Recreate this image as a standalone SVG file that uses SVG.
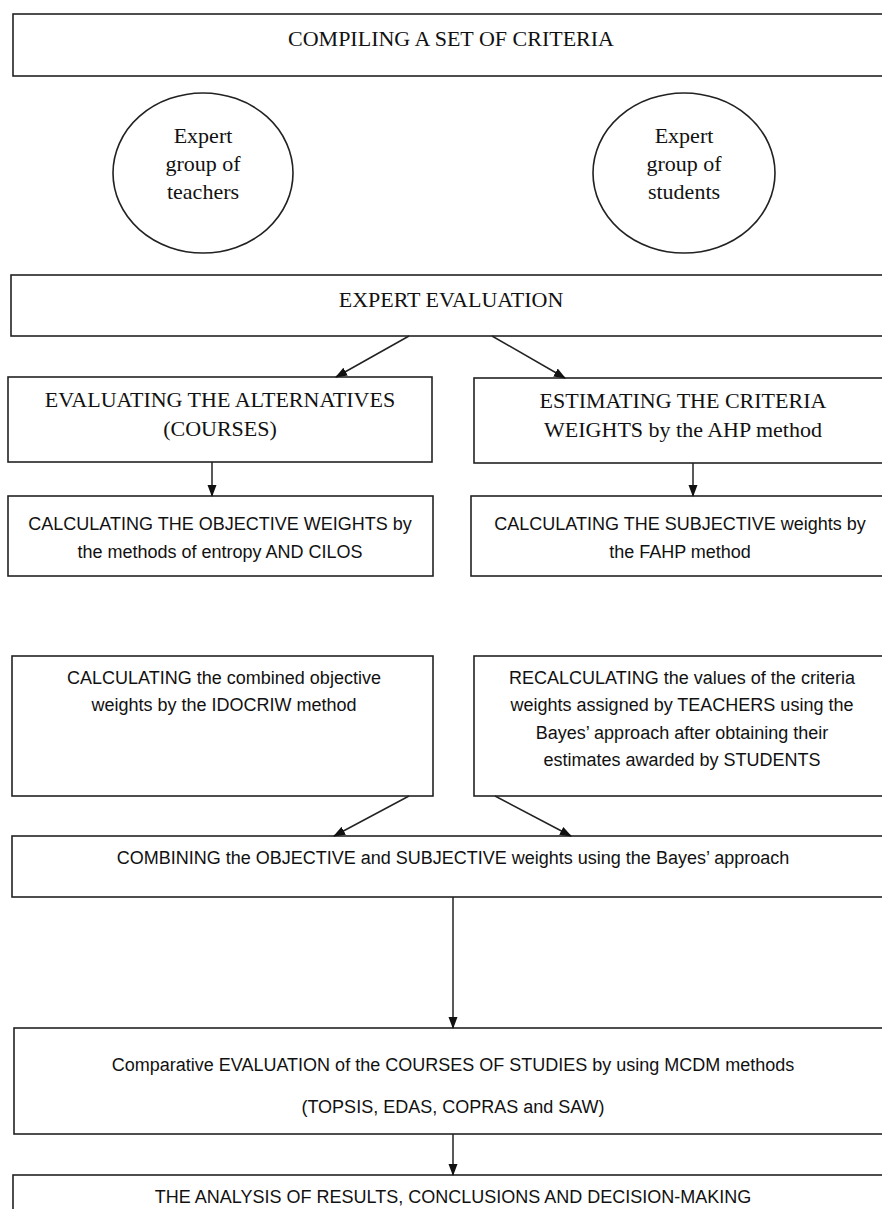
<svg xmlns="http://www.w3.org/2000/svg" width="882" height="1209" viewBox="0 0 882 1209">
<defs>
<style>
.box{fill:#fff;stroke:#222;stroke-width:1.6}
.ell{fill:#fff;stroke:#222;stroke-width:1.6}
.serif{font-family:"Liberation Serif","Times New Roman",serif;font-size:22px;fill:#111;text-anchor:middle}
.sans{font-family:"Liberation Sans",Arial,sans-serif;font-size:18px;fill:#111;text-anchor:middle}
.conn{stroke:#222;stroke-width:1.5;fill:none;marker-end:url(#ah)}
</style>
<marker id="ah" markerUnits="userSpaceOnUse" markerWidth="12" markerHeight="12" viewBox="0 0 12 12" refX="11" refY="6" orient="auto">
<path d="M0,1.5 L12,6 L0,10.5 Z" fill="#111"/>
</marker>
</defs>
<rect width="882" height="1209" fill="#fff"/>
<g id="n-compiling">
<rect class="box" x="13" y="14" width="900" height="62"/>
<text class="serif" x="451" y="46">COMPILING A SET OF CRITERIA</text>
</g>
<g id="n-teachers">
<ellipse class="ell" cx="203" cy="173" rx="90" ry="80"/>
<text class="serif" x="203" y="143">Expert</text>
<text class="serif" x="203" y="171">group of</text>
<text class="serif" x="203" y="199">teachers</text>
</g>
<g id="n-students">
<ellipse class="ell" cx="684" cy="173" rx="91" ry="80"/>
<text class="serif" x="684" y="143">Expert</text>
<text class="serif" x="684" y="171">group of</text>
<text class="serif" x="684" y="199">students</text>
</g>
<g id="n-expert-eval">
<rect class="box" x="11" y="275" width="900" height="61"/>
<text class="serif" x="451" y="307">EXPERT EVALUATION</text>
</g>
<g id="n-eval-alt">
<rect class="box" x="8" y="377" width="424" height="85"/>
<text class="serif" x="220" y="407">EVALUATING THE ALTERNATIVES</text>
<text class="serif" x="220" y="436">(COURSES)</text>
</g>
<g id="n-est-crit">
<rect class="box" x="474" y="378" width="430" height="85"/>
<text class="serif" x="683" y="408">ESTIMATING THE CRITERIA</text>
<text class="serif" x="683" y="437">WEIGHTS by the AHP method</text>
</g>
<g id="n-obj-weights">
<rect class="box" x="8" y="496" width="425" height="80"/>
<text class="sans" x="220" y="530">CALCULATING THE OBJECTIVE WEIGHTS by</text>
<text class="sans" x="220" y="558">the methods of entropy AND CILOS</text>
</g>
<g id="n-subj-weights">
<rect class="box" x="471" y="496" width="430" height="80"/>
<text class="sans" x="680" y="530">CALCULATING THE SUBJECTIVE weights by</text>
<text class="sans" x="680" y="558">the FAHP method</text>
</g>
<g id="n-idocriw">
<rect class="box" x="12" y="656" width="421" height="140"/>
<text class="sans" x="224" y="684">CALCULATING the combined objective</text>
<text class="sans" x="224" y="711">weights by the IDOCRIW method</text>
</g>
<g id="n-recalc">
<rect class="box" x="474" y="656" width="430" height="140"/>
<text class="sans" x="682" y="684">RECALCULATING the values of the criteria</text>
<text class="sans" x="682" y="711">weights assigned by TEACHERS using the</text>
<text class="sans" x="682" y="739">Bayes’ approach after obtaining their</text>
<text class="sans" x="682" y="766">estimates awarded by STUDENTS</text>
</g>
<g id="n-combining">
<rect class="box" x="12" y="836" width="900" height="61"/>
<text class="sans" x="453" y="864">COMBINING the OBJECTIVE and SUBJECTIVE weights using the Bayes’ approach</text>
</g>
<g id="n-comparative">
<rect class="box" x="14" y="1028" width="900" height="106"/>
<text class="sans" x="453" y="1071">Comparative EVALUATION of the COURSES OF STUDIES by using MCDM methods</text>
<text class="sans" x="453" y="1113">(TOPSIS, EDAS, COPRAS and SAW)</text>
</g>
<g id="n-analysis">
<rect class="box" x="13" y="1175" width="900" height="60"/>
<text class="sans" x="453" y="1203">THE ANALYSIS OF RESULTS, CONCLUSIONS AND DECISION-MAKING</text>
</g>
<g id="connectors">
<line class="conn" x1="409" y1="336" x2="336" y2="377"/>
<line class="conn" x1="492" y1="336" x2="565" y2="378"/>
<line class="conn" x1="212" y1="462" x2="212" y2="496"/>
<line class="conn" x1="693" y1="463" x2="693" y2="496"/>
<line class="conn" x1="409" y1="796" x2="334" y2="836"/>
<line class="conn" x1="495" y1="796" x2="571" y2="836"/>
<line class="conn" x1="453" y1="897" x2="453" y2="1028"/>
<line class="conn" x1="453" y1="1134" x2="453" y2="1175"/>
</g>
</svg>
